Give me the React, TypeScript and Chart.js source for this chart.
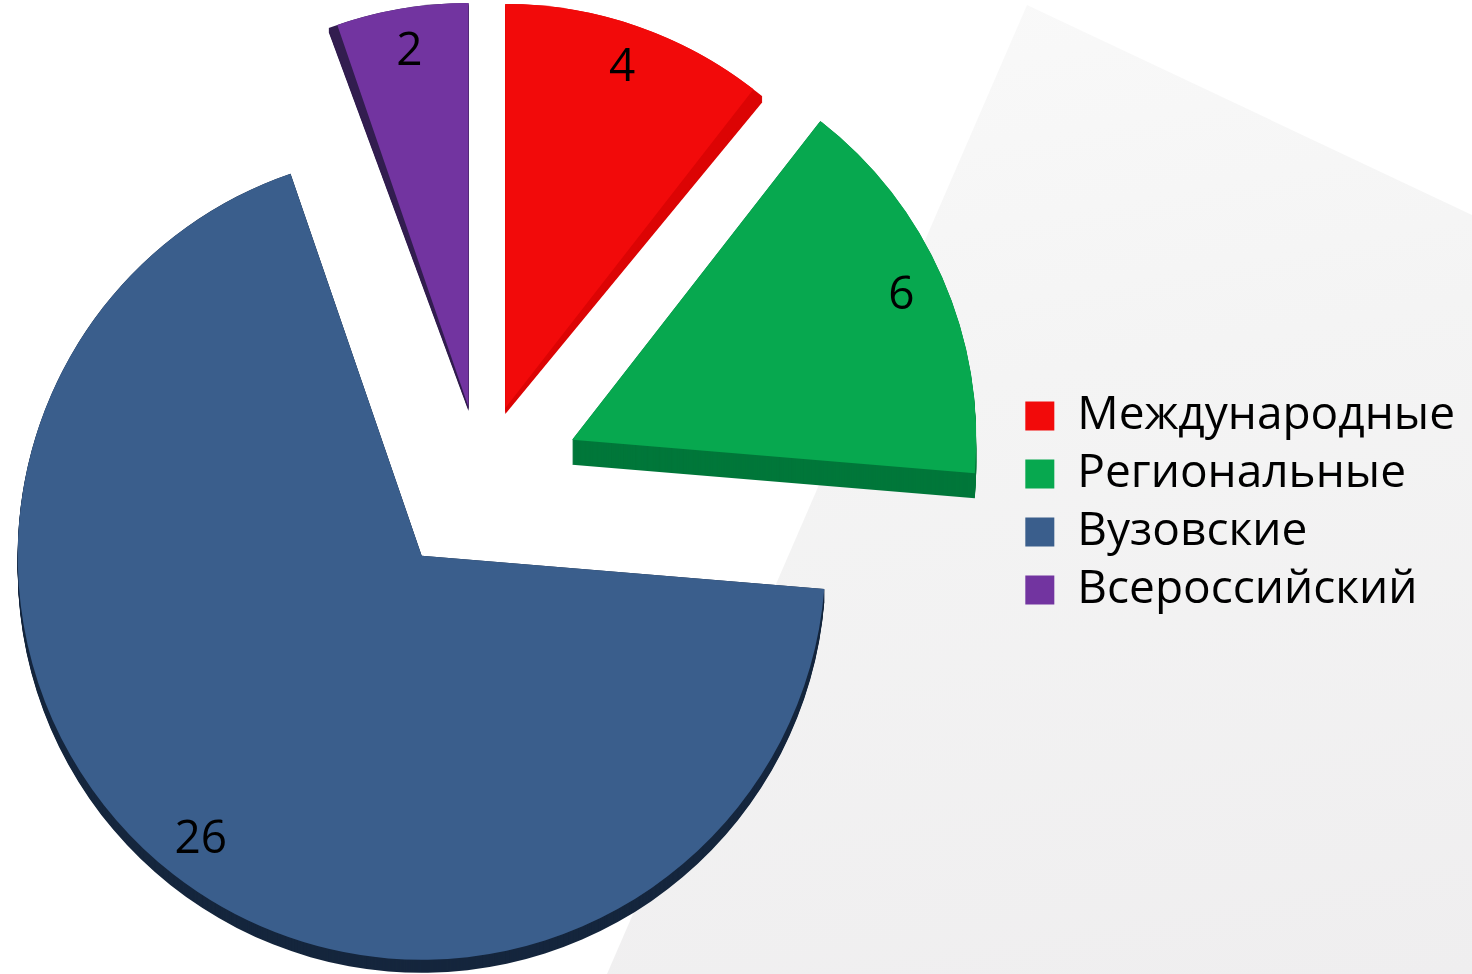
import React, { useEffect, useRef } from "react";
import { Chart, registerables } from "chart.js";

Chart.register(...registerables);

const CATEGORIES = ["Международные", "Региональные", "Вузовские", "Всероссийский"];
const VALUES = [4, 6, 26, 2];

const COLORS = ["#F20A0A", "#07A84F", "#3A5E8C", "#7234A0"];
const SIDE_COLORS = ["#DC0404", "#00773A", "#15263D", "#321D4F"];
// explode distance of each slice (px), vertical depth of its 3D side (px),
// and extra side angle (deg) before the start / after the end edge
const EXPLODE = [76, 100, 96, 74];
const DEPTHS = [6, 25, 13, 4];
const SIDE_START_DEG = [0, 0, 0, 1.3];
const SIDE_END_DEG = [1.6, 0, 0, 0];

const FONT = "'Open Sans', 'Noto Sans', sans-serif";
const CANVAS_LEFT = -52;
const CANVAS_W = 1472 - CANVAS_LEFT;
const CANVAS_H = 974;

function shiftOf(el: any, i: number) {
  const mid = (el.startAngle + el.endAngle) / 2;
  const d = EXPLODE[i] || 0;
  return { dx: Math.cos(mid) * d, dy: Math.sin(mid) * d, mid };
}

const explodePlugin = {
  id: "explode3d",
  beforeDatasetDraw(chart: any, args: any) {
    const ctx = chart.ctx;
    const meta = args.meta;
    const data = chart.data.datasets[args.index].data;
    const rad = Math.PI / 180;

    // 3D sides
    meta.data.forEach((el: any, i: number) => {
      const { x, y, startAngle, endAngle, outerRadius } = el;
      const { dx, dy } = shiftOf(el, i);
      const cx = x + dx;
      const cy = y + dy;
      const s = startAngle - SIDE_START_DEG[i] * rad;
      const e = endAngle + SIDE_END_DEG[i] * rad;
      ctx.save();
      ctx.fillStyle = SIDE_COLORS[i];
      for (let k = DEPTHS[i]; k >= 0; k--) {
        ctx.beginPath();
        ctx.moveTo(cx, cy + k);
        ctx.arc(cx, cy + k, outerRadius, s, e);
        ctx.closePath();
        ctx.fill();
      }
      ctx.restore();
    });

    // top faces, drawn by the arc elements themselves
    meta.data.forEach((el: any, i: number) => {
      const { dx, dy } = shiftOf(el, i);
      ctx.save();
      ctx.translate(dx, dy);
      el.draw(ctx, chart.chartArea);
      ctx.restore();
    });

    // value labels
    ctx.save();
    ctx.font = `46px ${FONT}`;
    ctx.fillStyle = "#000";
    ctx.textAlign = "center";
    ctx.textBaseline = "middle";
    meta.data.forEach((el: any, i: number) => {
      const { x, y, outerRadius } = el;
      const { dx, dy, mid } = shiftOf(el, i);
      const r = outerRadius * 0.89;
      ctx.fillText(String(data[i]), x + dx + Math.cos(mid) * r, y + dy + Math.sin(mid) * r);
    });
    ctx.restore();
    return false;
  },
};

export default function App() {
  const ref = useRef<HTMLCanvasElement | null>(null);

  useEffect(() => {
    document.body.style.margin = "0";
    const canvas = ref.current;
    if (!canvas) return;
    const chart = new Chart(canvas, {
      type: "pie",
      data: {
        labels: CATEGORIES,
        datasets: [
          {
            data: VALUES,
            backgroundColor: COLORS,
            borderWidth: 0,
            offset: 0,
            hoverOffset: 0,
          },
        ],
      },
      options: {
        responsive: false,
        animation: false,
        radius: 404,
        events: [],
        layout: { padding: { left: 0, top: 0, right: 7, bottom: 14 } },
        plugins: {
          legend: {
            position: "right",
            align: "center",
            title: { display: true, text: "", padding: 0, font: { size: 20, lineHeight: 2.3 } },
            labels: {
              boxWidth: 29,
              boxHeight: 29,
              padding: 12,
              color: "#000",
              font: { family: FONT, size: 46, weight: "500" },
            },
          },
          tooltip: { enabled: false },
        },
      } as any,
      plugins: [explodePlugin],
    });
    return () => chart.destroy();
  }, []);

  return (
    <div
      style={{
        position: "fixed",
        left: 0,
        top: 0,
        width: 1472,
        height: 974,
        overflow: "hidden",
        background: "#ffffff",
      }}
    >
      <div
        style={{
          position: "absolute",
          left: 0,
          top: 0,
          width: 1472,
          height: 974,
          background: "linear-gradient(170deg, #fbfbfb 0%, #f4f4f4 45%, #efeeef 100%)",
          clipPath: "polygon(1027px 5px, 1472px 215px, 1472px 974px, 607px 974px)",
        }}
      />
      <canvas
        ref={ref}
        width={CANVAS_W}
        height={CANVAS_H}
        style={{ position: "absolute", left: CANVAS_LEFT, top: 0, width: CANVAS_W, height: CANVAS_H }}
      />
    </div>
  );
}
